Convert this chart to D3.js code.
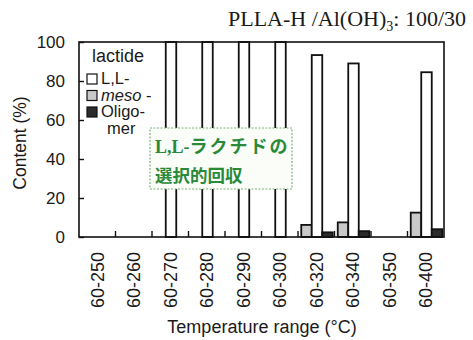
<!DOCTYPE html>
<html>
<head>
<meta charset="utf-8">
<script src="https://cdn.jsdelivr.net/npm/d3@7"></script>
<style>
  body { margin: 0; background: #fff; }
  text { fill: #1a1a1a; }
</style>
</head>
<body>
<div id="chart"></div>
<script>
const w = 473;
const h = 340;

// Data
const categories = ["60-250", "60-260", "60-270", "60-280", "60-290", "60-300", "60-320", "60-340", "60-350", "60-400"];
const llValues = [null, null, 100, 100, 100, 100, 93.3, 89, null, 84.5];
const mesoValues = [null, null, null, null, null, null, 6.2, 7.5, null, 12.5];
const oligoValues = [null, null, null, null, null, null, 2.4, 3, null, 4];
const yTicks = [0, 20, 40, 60, 80, 100];

const svg = d3.select("#chart")
  .append("svg")
  .attr("width", w)
  .attr("height", h);

const x = d3.scaleBand().domain(categories).range([79, 444]);
const y = d3.scaleLinear().domain([0, 100]).range([237, 42]);
const bw = 10.5;

// series: offset relative to band centre (in bar widths)
const series = [
  { name: "meso", vals: mesoValues, off: -1, fill: "#c9c9c9" },
  { name: "ll", vals: llValues, off: 0, fill: "#ffffff" },
  { name: "oligo", vals: oligoValues, off: 1, fill: "#2b2b2b" }
];

series.forEach(s => {
  const pts = categories.map((c, i) => ({ c: c, v: s.vals[i] })).filter(d => d.v != null);
  svg.append("g").selectAll("rect")
    .data(pts)
    .enter()
    .append("rect")
    .attr("x", d => x(d.c) + x.bandwidth() / 2 + 0.75 + (s.off - 0.5) * bw)
    .attr("y", d => y(d.v))
    .attr("width", bw)
    .attr("height", d => y(0) - y(d.v))
    .attr("fill", s.fill)
    .attr("stroke", "#111")
    .attr("stroke-width", 1.8);
});

// frame
svg.append("rect")
  .attr("x", 79).attr("y", 42)
  .attr("width", 365).attr("height", 195)
  .attr("fill", "none")
  .attr("stroke", "#111")
  .attr("stroke-width", 1.6);

// y axis, ticks inward
const yAxis = svg.append("g")
  .attr("transform", "translate(79,0)")
  .call(d3.axisLeft(y).tickValues(yTicks).tickSize(-5).tickPadding(14));
yAxis.select(".domain").remove();
yAxis.selectAll("line").attr("stroke", "#111").attr("stroke-width", 1.4);
yAxis.selectAll("text")
  .attr("font-family", "Liberation Sans, Arial, sans-serif")
  .attr("font-size", 17)
  .attr("fill", "#1a1a1a");

// x axis labels, rotated
const xAxis = svg.append("g")
  .attr("transform", "translate(0,237)")
  .call(d3.axisBottom(x).tickSize(0).tickPadding(0));
xAxis.select(".domain").remove();
xAxis.selectAll("text")
  .attr("font-family", "Liberation Sans, Arial, sans-serif")
  .attr("font-size", 18)
  .attr("fill", "#1a1a1a")
  .attr("transform", "rotate(-90)")
  .attr("text-anchor", "end")
  .attr("x", -15)
  .attr("y", 0)
  .attr("dy", "0.35em");

// inward ticks between categories
svg.append("g").selectAll("line")
  .data(categories.slice(1))
  .enter()
  .append("line")
  .attr("x1", d => x(d)).attr("x2", d => x(d))
  .attr("y1", 237).attr("y2", 231)
  .attr("stroke", "#111")
  .attr("stroke-width", 1.4);

// axis titles
svg.append("text")
  .attr("transform", "translate(26,143) rotate(-90)")
  .attr("text-anchor", "middle")
  .attr("font-family", "Liberation Sans, Arial, sans-serif")
  .attr("font-size", 17.5)
  .text("Content (%)");

svg.append("text")
  .attr("x", 262).attr("y", 333)
  .attr("text-anchor", "middle")
  .attr("font-family", "Liberation Sans, Arial, sans-serif")
  .attr("font-size", 18)
  .text("Temperature range (°C)");

// title
const title = svg.append("text")
  .attr("x", 466).attr("y", 26)
  .attr("text-anchor", "end")
  .attr("font-family", "Liberation Serif, Times New Roman, serif")
  .attr("font-size", 22);
title.append("tspan").text("PLLA-H /Al(OH)");
title.append("tspan").attr("font-size", 14).attr("dy", 5).text("3");
title.append("tspan").attr("dy", -5).text(": 100/30");

// legend
const lg = svg.append("g").attr("font-family", "Liberation Sans, Arial, sans-serif").attr("font-size", 16.5);
lg.append("text").attr("x", 92).attr("y", 62).attr("font-size", 18).text("lactide");
const legendItems = [
  { label: "L,L-", fill: "#ffffff", y: 74, italic: false },
  { label: "meso", fill: "#c9c9c9", y: 90.5, italic: true },
  { label: "Oligo-", fill: "#2b2b2b", y: 107, italic: false }
];
legendItems.forEach(d => {
  lg.append("rect")
    .attr("x", 87).attr("y", d.y)
    .attr("width", 10).attr("height", 10)
    .attr("fill", d.fill)
    .attr("stroke", "#111")
    .attr("stroke-width", 1.2);
  const t = lg.append("text").attr("x", 101).attr("y", d.y + 10);
  if (d.italic) {
    t.append("tspan").attr("font-style", "italic").text(d.label);
    t.append("tspan").text(" -");
  } else {
    t.text(d.label);
  }
});
lg.append("text").attr("x", 107).attr("y", 134).text("mer");

// green note box
svg.append("rect")
  .attr("x", 150).attr("y", 128)
  .attr("width", 142).attr("height", 61)
  .attr("fill", "#fbfdf9")
  .attr("stroke", "#7fb27f")
  .attr("stroke-width", 1.2)
  .attr("stroke-dasharray", "2,1.5");

const note1 = svg.append("text")
  .attr("x", 155).attr("y", 153)
  .attr("font-size", 18)
  .attr("font-weight", "bold")
  .style("fill", "#2a8a3a");
note1.append("tspan").attr("font-family", "Liberation Serif, serif").text("L,L-");
note1.append("tspan").attr("font-family", "Noto Sans CJK JP, sans-serif")
  .attr("letter-spacing", 2).text("ラクチドの");

svg.append("text")
  .attr("x", 155).attr("y", 182)
  .attr("font-size", 17.5)
  .attr("font-weight", "bold")
  .attr("font-family", "Noto Sans CJK JP, sans-serif")
  .style("fill", "#2a8a3a")
  .text("選択的回収");
</script>
</body>
</html>
